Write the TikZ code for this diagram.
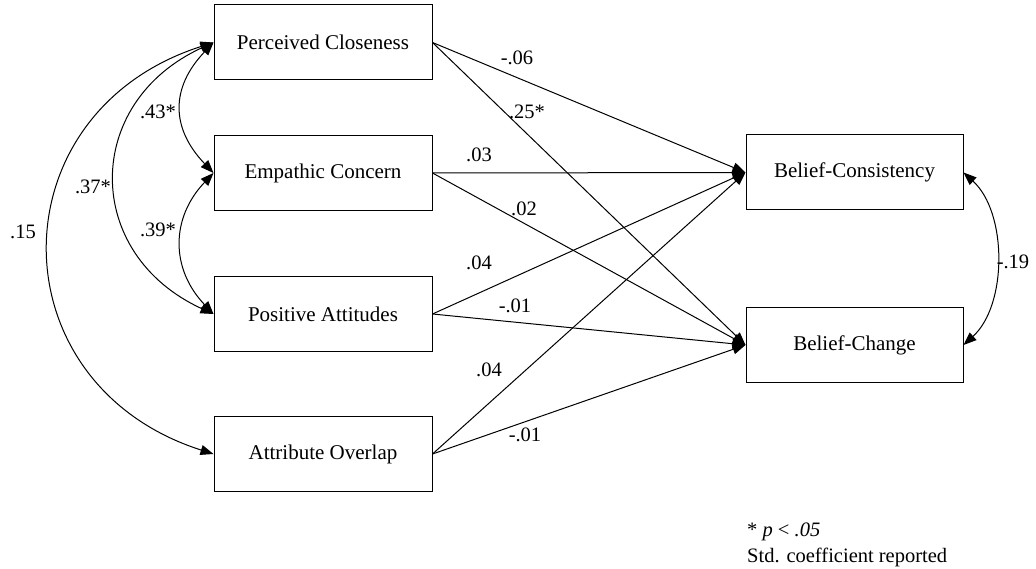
\documentclass[tikz,border=0pt]{standalone}
\usepackage{fontspec}
\setmainfont{Liberation Serif}
\usetikzlibrary{arrows.meta}
\begin{document}
\begin{tikzpicture}[x=1pt,y=-1pt,
  varbox/.style={draw, line width=1pt, minimum width=218pt, minimum height=75pt, inner sep=0pt, font=\fontsize{21}{25}\selectfont},
  coef/.style={inner sep=0pt, font=\fontsize{20.5}{24}\selectfont},
  path/.style={line width=1pt, -{Triangle[length=13pt,width=10pt]}},
  cov/.style={line width=1pt, {Triangle[length=13pt,width=10pt]}-{Triangle[length=13pt,width=10pt]}}]
\useasboundingbox (0,0) rectangle (1036,569);
% boxes
\node[varbox] (pc) at (323,42.5) {Perceived Closeness};
\node[varbox] (ec) at (323,173) {Empathic Concern};
\node[varbox] (pa) at (323,314) {Positive Attitudes};
\node[varbox] (ao) at (323,454) {Attribute Overlap};
\node[varbox, minimum width=217pt] (bcons) at (854.5,172.5) {Belief-Consistency};
\node[varbox, minimum width=217pt] (bchg) at (854.5,345) {Belief-Change};
% paths
\draw[path] (pc.east) -- (bcons.west);
\draw[path] (pc.east) -- (bchg.west);
\draw[path] (ec.east) -- (bcons.west);
\draw[path] (ec.east) -- (bchg.west);
\draw[path] (pa.east) -- (bcons.west);
\draw[path] (pa.east) -- (bchg.west);
\draw[path] (ao.east) -- (bcons.west);
\draw[path] (ao.east) -- (bchg.west);
% covariances
\draw[cov] (pc.west) .. controls +(-43,45) and +(-43,-45) .. (ec.west);
\draw[cov] (ec.west) .. controls +(-43,45) and +(-43,-45) .. (pa.west);
\draw[cov] (pc.west) .. controls +(-131,60) and +(-131,-60) .. (pa.west);
\draw[cov] (pc.west) .. controls +(-219,70) and +(-219,-70) .. (ao.west);
\draw[cov] (bcons.east) .. controls +(44,40) and +(44,-40) .. (bchg.east);
% labels
\node[coef] (l1) at (517,58) {-.06};
\node[coef] (l2) at (527,112) {.25*};
\node[coef] (l3) at (479,155) {.03};
\node[coef] (l4) at (524,209) {.02};
\node[coef] (l5) at (479,263) {.04};
\node[coef] (l6) at (515,306) {-.01};
\node[coef] (l7) at (489,370) {.04};
\node[coef] (l8) at (525,435) {-.01};
\node[coef] (l9) at (158,112) {.43*};
\node[coef] (l10) at (93,187) {.37*};
\node[coef] (l11) at (158,230) {.39*};
\node[coef] (l12) at (23,232) {.15};
\node[coef] (l13) at (1013,262) {-.19};
\node[coef, anchor=west] (n1) at (747,532) {* \textit{p} < \textit{.05}};
\node[coef, anchor=west] (n2) at (747,557) {Std. coefficient reported};
\end{tikzpicture}
\end{document}
